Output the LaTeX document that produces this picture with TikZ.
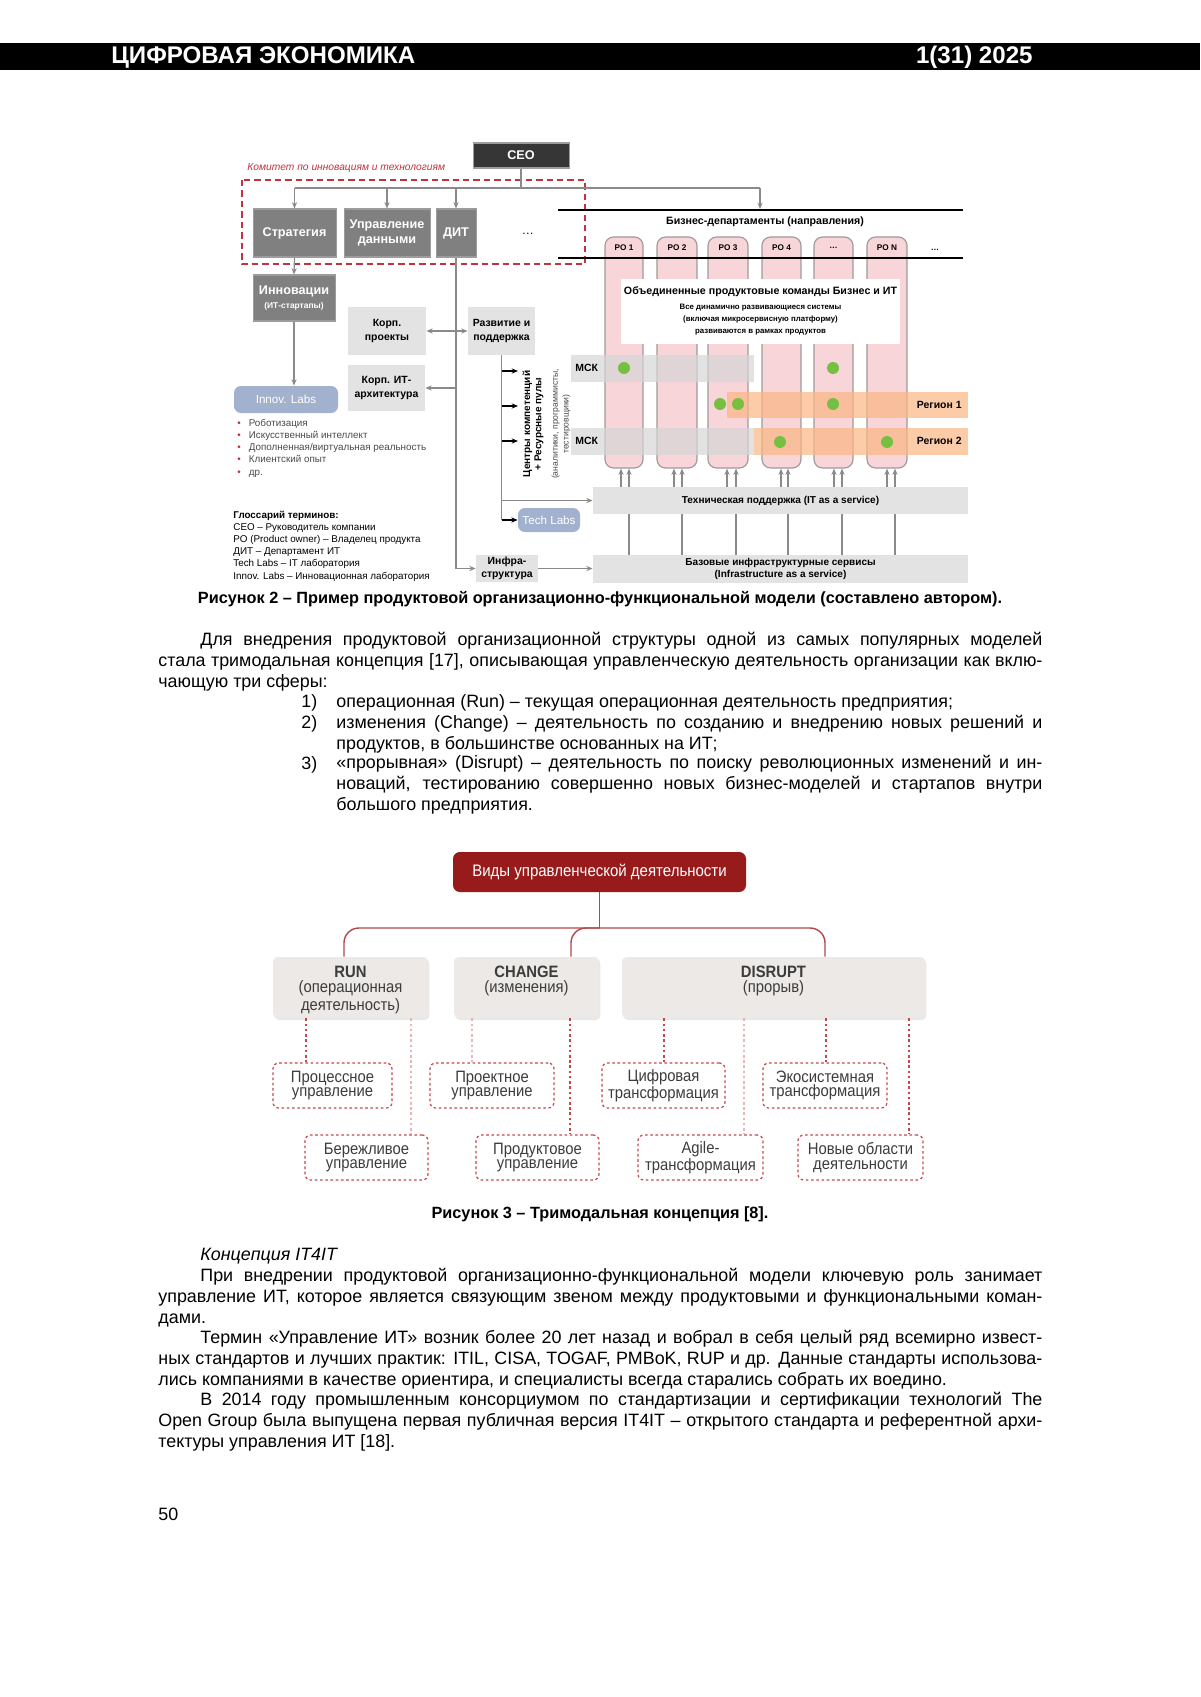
\documentclass[tikz,border=0pt]{standalone}
\usepackage{fontspec}
\setmainfont{Liberation Sans}
\newfontfamily\trifont[FakeStretch=0.9]{Liberation Sans}
\usepackage{tikz}
\usetikzlibrary{arrows.meta,positioning,calc,fit,shadows}
\definecolor{OrgInk}{HTML}{363636}
\definecolor{OrgGrey}{HTML}{808080}
\definecolor{OrgEdge}{HTML}{9C9C9C}
\definecolor{OrgLight}{HTML}{E3E3E3}
\definecolor{OrgLine}{HTML}{8A8A8A}
\definecolor{OrgPink}{HTML}{F7D5D9}
\definecolor{OrgPinkEdge}{HTML}{A09A9B}
\definecolor{OrgBand}{HTML}{D6D6D6}
\definecolor{OrgOrange}{HTML}{FBB684}
\definecolor{OrgGreen}{HTML}{76BF43}
\definecolor{OrgBlue}{HTML}{A2B1CD}
\definecolor{OrgRed}{HTML}{C4323E}
\definecolor{OrgText}{HTML}{4A4A4A}
\definecolor{TriWine}{HTML}{981B1B}
\definecolor{TriLink}{HTML}{B4474A}
\definecolor{TriSoft}{HTML}{ECE9E6}
\definecolor{TriDash}{HTML}{C6474A}
\definecolor{TriText}{HTML}{3C3C3C}
\newcommand{\fsz}[2]{\fontsize{#1}{#2}\selectfont}
\newcommand{\redbullet}{{\color{OrgRed}\textbullet}\hspace{1.4mm}}
\newcommand{\greendot}[2]{\fill[OrgGreen] (#1,#2) circle (1.05mm);}
\newcommand{\orgbox}[5]{% {style}{name}{corner}{corner}{text}
  \node[#1,fit={#3 #4}] (#2) {};
  \node[#1 text] (#2t) at (#2.center) {#5};%
}
\newlength{\bodyw}\setlength{\bodyw}{154.7mm}
\newlength{\itemw}\setlength{\itemw}{123.55mm}
\newcommand{\fullline}[1]{\makebox[\bodyw][s]{#1}}
\newcommand{\itemline}[1]{\makebox[\itemw][s]{#1}}

\begin{document}
\begin{tikzpicture}[x=0.175mm,y=-0.175mm,
    every node/.style={inner sep=0pt},
    darkbox/.style={fill=OrgGrey,draw=OrgEdge,line width=0.5pt},
    darkbox text/.style={text=white,font=\bfseries\fsz{6.3}{7.4},align=center},
    ceobox/.style={darkbox,fill=OrgInk},
    ceobox text/.style={darkbox text},
    lightbox/.style={fill=OrgLight},
    lightbox text/.style={font=\bfseries\fsz{5.2}{6.6},align=center},
    bluebox/.style={fill=OrgBlue,rounded corners=1.2mm},
    bluebox text/.style={text=white,font=\fsz{5.8}{7}},
    barbox/.style={fill=OrgLight},
    barbox text/.style={font=\bfseries\fsz{5}{6.2},align=center},
    pocol/.style={fill=OrgPink,draw=OrgPinkEdge,line width=0.6pt,rounded corners=1.5mm},
    polabel/.style={font=\bfseries\fsz{4.1}{5}},
    mskband/.style={fill=OrgBand,fill opacity=0.7},
    regband/.style={fill=OrgOrange,fill opacity=0.7},
    bandlabel/.style={font=\bfseries\fsz{5.2}{6}},
    orgline/.style={draw=OrgLine,line width=0.6pt},
    orgarrow/.style={orgline,-{Stealth[length=1.1mm,width=0.9mm]}},
    darkarrow/.style={draw=black,line width=0.6pt,-{Stealth[length=1.1mm,width=0.9mm]}},
    notes/.style={anchor=base west,align=left,text=OrgText,font=\fsz{4.9}{6}},
    trihead/.style={fill=TriWine,rounded corners=1.2mm},
    trihead text/.style={text=white,font=\trifont\fsz{8.3}{8.5}},
    trisoft/.style={fill=TriSoft,rounded corners=0.8mm,
      drop shadow={opacity=0.18,shadow xshift=0.25mm,shadow yshift=-0.35mm}},
    tritext/.style={align=center,text=TriText,font=\trifont\fsz{8.2}{7.6}},
    tribox/.style={draw=TriDash,line width=0.6pt,dash pattern=on 1.3pt off 1.3pt,
      rounded corners=1mm,fill=white},
    tribox text/.style={align=center,text=TriText,font=\trifont\fsz{8.2}{7.4}},
    trilink/.style={draw=TriLink,line width=0.7pt},
    tridash/.style={draw=TriDash,line width=0.6pt,dash pattern=on 1.3pt off 1.3pt},
    trifaint/.style={tridash,draw=TriDash!40},
    body/.style={anchor=base west,align=left,font=\fsz{8.9}{10.22}},
    caption/.style={anchor=base,font=\bfseries\fsz{8.1}{10}}]
  \useasboundingbox (0,0) rectangle (1200,1697);
  \fill[white] (0,0) rectangle (1200,1697);

  % running head
  \fill[black] (0,43) rectangle (1200,70);
  \node[anchor=base west,text=white,font=\bfseries\fsz{12}{12}] (journal) at (111,64) {ЦИФРОВАЯ ЭКОНОМИКА};
  \node[anchor=base east,text=white,font=\bfseries\fsz{12}{12}] (issue) at (1033,64) {1(31) 2025};

  % ---------- figure 2 ----------
  \orgbox{ceobox}{ceo}{(473,143)}{(569,168)}{CEO}
  \node[anchor=west,text=OrgRed,font=\itshape\fsz{5.1}{6}] (cttl) at (247,168) {Комитет по инновациям и технологиям};
  \draw[OrgRed,line width=0.8pt,dash pattern=on 3.2pt off 2pt] (242,180) rectangle (585,264);

  \orgbox{darkbox}{strat}{(253,209)}{(336,257)}{Стратегия}
  \orgbox{darkbox}{data}{(344,209)}{(430,257)}{Управление\\данными}
  \orgbox{darkbox}{dit}{(436,209)}{(476,257)}{ДИТ}
  \node[font=\fsz{6}{7}] (more) at (528,234) {\ldots};

  \coordinate (ceobus) at (ceo.south |- 0,188);
  \coordinate (bizdrop) at (760,209);
  \draw[orgline] (ceo.south) -- (ceobus);
  \draw[orgline] (strat.north |- ceobus) -- (ceobus -| bizdrop);
  \draw[orgarrow] (strat.north |- ceobus) -- (strat.north);
  \draw[orgarrow] (data.north |- ceobus) -- (data.north);
  \draw[orgarrow] (dit.north |- ceobus) -- (dit.north);
  \draw[orgarrow] (ceobus -| bizdrop) -- (bizdrop);

  % business departments
  \draw[black,line width=0.6pt] (558,210) -- (963,210);
  \node[font=\bfseries\fsz{5.3}{6}] (biz) at (765,222) {Бизнес-департаменты (направления)};
  \foreach \n/\xl/\xr/\lab in {1/605/643/PO 1,2/657/697/PO 2,3/708/748/PO 3,
                               4/762/801/PO 4,5/814/853/\ldots,6/867/907/PO N} {
    \node[pocol,fit={(\xl,237) (\xr,468)}] (po\n) {};
    \node[polabel] (pol\n) at (po\n.north |- 0,248) {\lab};
  }
  \node[polabel] (pomore) at (935,250) {\ldots};
  \draw[black,line width=0.6pt] (558,258) -- (963,258);

  \node[fill=white,fit={(621,279) (900,344)}] (team) {};
  \node[font=\bfseries\fsz{5.3}{6.5}] (teamt) at (team.north |- 0,292) {Объединенные продуктовые команды Бизнес и ИТ};
  \node[anchor=north,align=center,font=\bfseries\fsz{3.9}{5.95}] (teams) at (team.north |- 0,304)
    {Все динамично развивающиеся системы\\(включая микросервисную платформу)\\развиваются в рамках продуктов};

  % regions
  \fill[mskband] (571,355) rectangle (754,382);
  \fill[regband] (727,392) rectangle (968,418);
  \fill[mskband] (571,428) rectangle (754,455);
  \fill[regband] (754,428) rectangle (968,455);
  \node[bandlabel,anchor=west] (msk1) at (575,368) {МСК};
  \node[bandlabel,anchor=west] (msk2) at (575,441) {МСК};
  \node[bandlabel,anchor=east] (reg1) at (962,405) {Регион 1};
  \node[bandlabel,anchor=east] (reg2) at (962,441) {Регион 2};
  \greendot{624}{368} \greendot{833}{368}
  \greendot{720}{404} \greendot{738}{404} \greendot{833}{404}
  \greendot{780}{442} \greendot{887}{442}

  % IT as a service
  \orgbox{barbox}{tsup}{(593,487)}{(968,514)}{Техническая поддержка (IT as a service)}
  \orgbox{barbox}{base}{(593,555)}{(968,583)}{Базовые инфраструктурные сервисы\\(Infrastructure as a service)}
  \foreach \n/\xa/\xb in {1/621/629,2/674/682,3/727/736,4/781/788,5/834/842,6/887/895} {
    \draw[orgarrow] (tsup.north -| \xa,0) -- (po\n.south -| \xa,0);
    \draw[orgarrow] (tsup.north -| \xb,0) -- (po\n.south -| \xb,0);
    \draw[orgline] (base.north -| \xb,0) -- (tsup.south -| \xb,0);
  }

  % left branch
  \orgbox{darkbox}{innov}{(253,275)}{(335,321)}{Инновации\\[-0.3mm]{\fsz{4.2}{5}(ИТ-стартапы)}}
  \orgbox{bluebox}{ilabs}{(234,386)}{(338,413)}{Innov. Labs}
  \draw[orgarrow] (strat.south) -- (innov.north);
  \draw[orgarrow] (innov.south) -- (innov.south |- ilabs.north);
  \node[notes] (trends) at (237,475) {\redbullet Роботизация\\ \redbullet Искусственный интеллект\\
    \redbullet Дополненная/виртуальная реальность\\ \redbullet Клиентский опыт\\ \redbullet др.};
  \node[notes,text=black] (gloss) at (233,579) {{\bfseries Глоссарий терминов:}\\
    CEO – Руководитель компании\\ PO (Product owner) – Владелец продукта\\ ДИТ – Департамент ИТ\\
    Tech Labs – IT лаборатория\\ Innov. Labs – Инновационная лаборатория};

  % IT department branch
  \orgbox{lightbox}{proj}{(348,307)}{(426,355)}{Корп.\\проекты}
  \orgbox{lightbox}{dev}{(468,307)}{(535,355)}{Развитие и\\поддержка}
  \orgbox{lightbox}{arch}{(348,365)}{(425,411)}{Корп. ИТ-\\архитектура}
  \orgbox{lightbox}{infra}{(476,555)}{(538,582)}{Инфра-\\структура}
  \orgbox{bluebox}{tlabs}{(518,508)}{(580,532)}{Tech Labs}
  \draw[orgline] (dit.south) -- (dit.south |- infra.west);
  \draw[orgarrow] (dit.south |- infra.west) -- (infra.west);
  \draw[orgarrow] (dit.south |- arch.east) -- (arch.east);
  \draw[orgline,{Stealth[length=1.1mm,width=0.9mm]}-{Stealth[length=1.1mm,width=0.9mm]}] (proj.east) -- (dev.west);
  \draw[orgarrow] (infra.east) -- (infra.east -| base.west);

  \node[rotate=90,align=center,font=\bfseries\fsz{5}{5.6}] (cc) at (533,424) {Центры компетенций\\+ Ресурсные пулы};
  \node[rotate=90,align=center,text=OrgText,font=\fsz{4.3}{5.4}] (ccnote) at (561,424) {(аналитики, программисты,\\тестировщики)};
  \coordinate (ccin) at (518,424);
  \draw[orgline] (dev.south) -- (dev.south |- tlabs.west);
  \foreach \yy in {371,406,441}
    \draw[darkarrow] (dev.south |- 0,\yy) -- (ccin |- 0,\yy);
  \draw[orgarrow] (dev.south |- tsup.west) -- (tsup.west);
  \draw[darkarrow] (dev.south |- tlabs.west) -- (tlabs.west);

  \node[caption] (cap2) at (600,603) {Рисунок 2 – Пример продуктовой организационно-функциональной модели (составлено автором).};

  % ---------- text ----------
  \node[body] (par1) at (158,687) {\fullline{\hspace*{7.35mm}Для внедрения продуктовой организационной структуры одной из самых популярных моделей}\\
    \fullline{стала тримодальная концепция [17], описывающая управленческую деятельность организации как вклю-}\\
    чающую три сферы:};
  \node[body] (n1) at (301,707) {1)};
  \node[body] (it1) at (336,707) {операционная (Run) – текущая операционная деятельность предприятия;};
  \node[body] (n2) at (301,728) {2)};
  \node[body] (it2) at (336,749) {\itemline{изменения (Change) – деятельность по созданию и внедрению новых решений и}\\
    продуктов, в большинстве основанных на ИТ;};
  \node[body] (n3) at (301,769) {3)};
  \node[body] (it3) at (336,810) {\itemline{«прорывная» (Disrupt) – деятельность по поиску революционных изменений и ин-}\\
    \itemline{новаций, тестированию совершенно новых бизнес-моделей и стартапов внутри}\\
    большого предприятия.};

  % ---------- figure 3 ----------
  \orgbox{trihead}{kinds}{(453,852)}{(746,892)}{Виды управленческой деятельности}
  \node[trisoft,fit={(273,957) (428,1018)}] (run) {};
  \node[trisoft,fit={(454,957) (599,1018)}] (change) {};
  \node[trisoft,fit={(622,957) (925,1018)}] (dis) {};
  \node[tritext,below=1.6mm of run.north] (runt) {\textbf{RUN}\\(операционная\\деятельность)};
  \node[tritext,below=1.6mm of change.north] (changet) {\textbf{CHANGE}\\(изменения)};
  \node[tritext,below=1.6mm of dis.north] (dist) {\textbf{DISRUPT}\\(прорыв)};

  \orgbox{tribox}{proc}{(273,1063)}{(392,1108)}{Процессное\\управление}
  \orgbox{tribox}{projm}{(430,1063)}{(554,1108)}{Проектное\\управление}
  \orgbox{tribox}{digi}{(602,1063)}{(725,1108)}{Цифровая\\трансформация}
  \orgbox{tribox}{eco}{(763,1063)}{(887,1108)}{Экосистемная\\трансформация}
  \orgbox{tribox}{lean}{(305,1135)}{(428,1180)}{Бережливое\\управление}
  \orgbox{tribox}{prod}{(476,1135)}{(599,1180)}{Продуктовое\\управление}
  \orgbox{tribox}{agile}{(638,1135)}{(763,1180)}{Agile-\\трансформация}
  \orgbox{tribox}{newar}{(798,1135)}{(923,1180)}{Новые области\\деятельности}

  \coordinate (bus) at (kinds.south |- 0,928);
  \draw[trilink] (kinds.south) -- (bus);
  \draw[trilink,rounded corners=2.6mm] (run.north -| 344,0) -- (bus -| 344,0) -- (bus -| eco.north) -- (dis.north -| eco.north);
  \draw[trilink,rounded corners=2.6mm] (change.north -| 571,0) |- (bus);

  \draw[tridash] (run.south -| 306,0) -- (proc.north -| 306,0);
  \draw[trifaint] (run.south -| 411,0) -- (lean.north -| 411,0);
  \draw[trifaint] (change.south -| 472,0) -- (projm.north -| 472,0);
  \draw[tridash] (change.south -| 570,0) -- (prod.north -| 570,0);
  \draw[tridash] (dis.south -| 664,0) -- (digi.north -| 664,0);
  \draw[trifaint] (dis.south -| 744,0) -- (agile.north -| 744,0);
  \draw[tridash] (dis.south -| 826,0) -- (eco.north -| 826,0);
  \draw[tridash] (dis.south -| 909,0) -- (newar.north -| 909,0);

  \node[caption] (cap3) at (600,1218) {Рисунок 3 – Тримодальная концепция [8].};

  % ---------- text ----------
  \node[body,font=\itshape\fsz{8.9}{10.22}] (sect) at (200,1260) {Концепция IT4IT};
  \node[body] (par2) at (158,1323) {\fullline{\hspace*{7.35mm}При внедрении продуктовой организационно-функциональной модели ключевую роль занимает}\\
    \fullline{управление ИТ, которое является связующим звеном между продуктовыми и функциональными коман-}\\
    дами.};
  \node[body] (par3) at (158,1385) {\fullline{\hspace*{7.35mm}Термин «Управление ИТ» возник более 20 лет назад и вобрал в себя целый ряд всемирно извест-}\\
    \fullline{ных стандартов и лучших практик: ITIL, CISA, TOGAF, PMBoK, RUP и др. Данные стандарты использова-}\\
    лись компаниями в качестве ориентира, и специалисты всегда старались собрать их воедино.};
  \node[body] (par4) at (158,1447) {\fullline{\hspace*{7.35mm}В 2014 году промышленным консорциумом по стандартизации и сертификации технологий The}\\
    \fullline{Open Group была выпущена первая публичная версия IT4IT – открытого стандарта и референтной архи-}\\
    тектуры управления ИТ [18].};
  \node[body] (pagenum) at (158,1520) {50};
\end{tikzpicture}
\end{document}
